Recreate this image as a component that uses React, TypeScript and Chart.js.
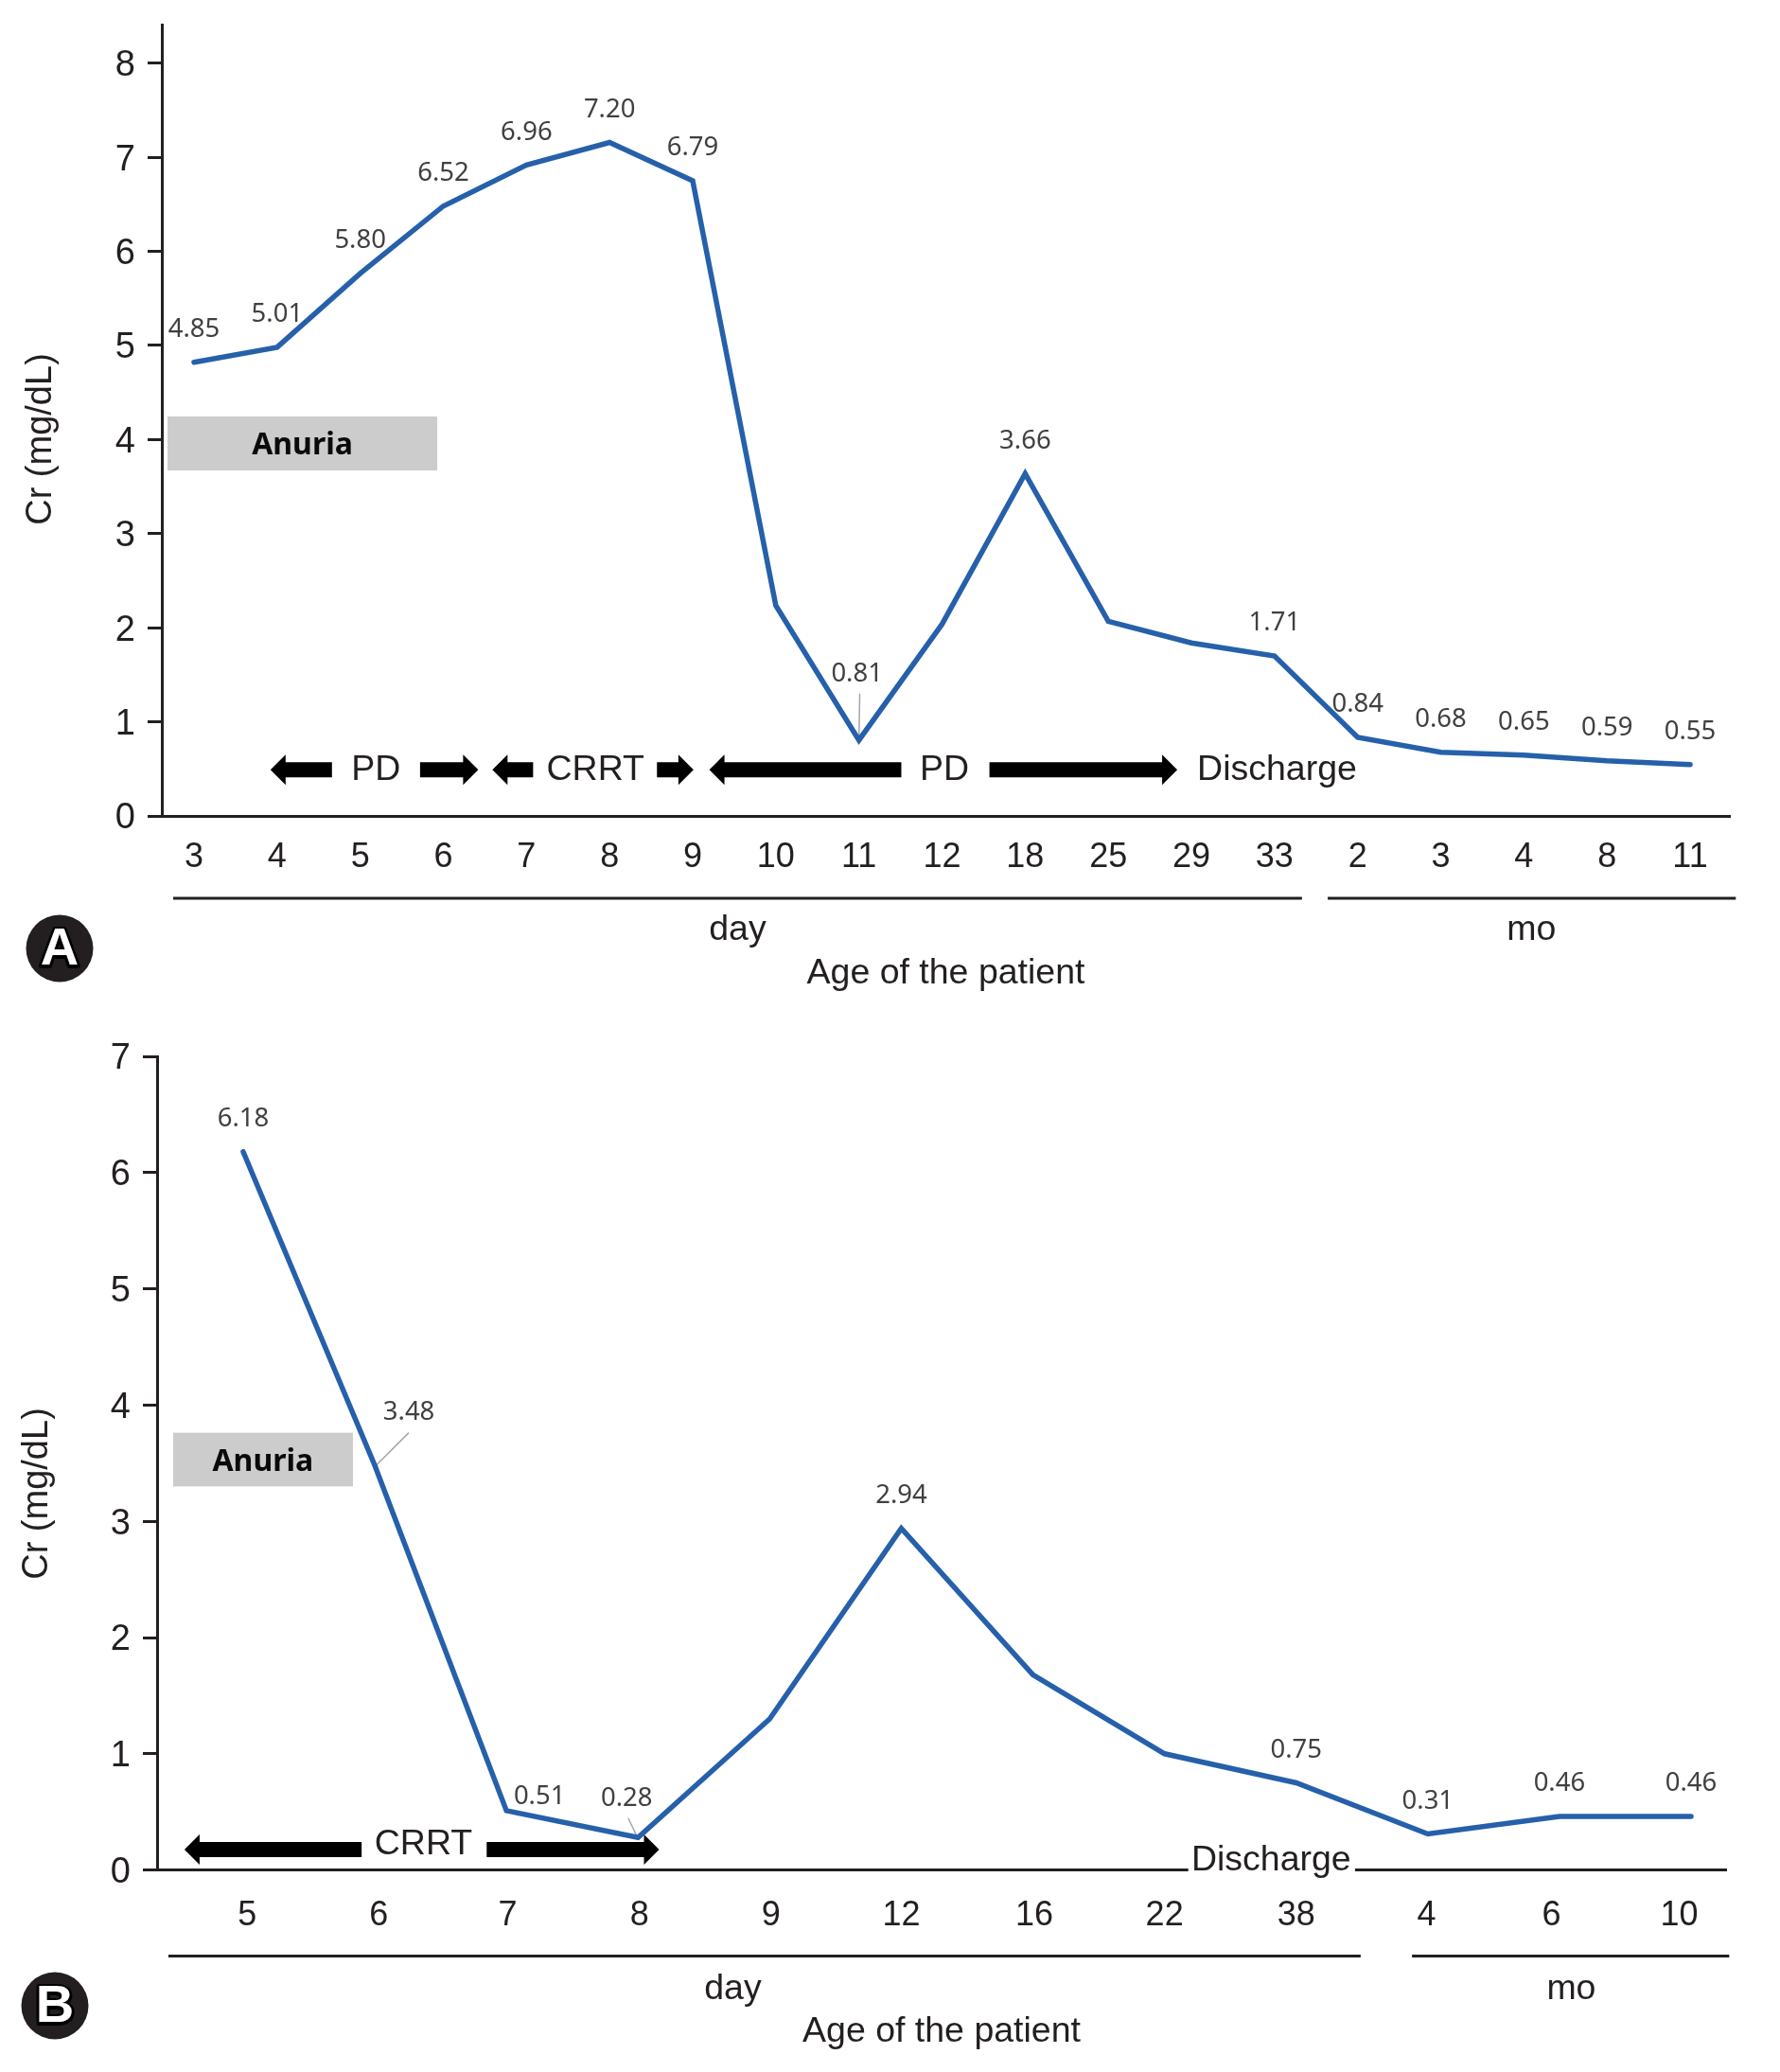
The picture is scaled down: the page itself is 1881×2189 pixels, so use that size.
import React, { useEffect, useRef } from "react";
import { Chart, registerables } from "chart.js";

Chart.register(...registerables);

// ---------- Panel A data ----------
const categoriesA = ["3","4","5","6","7","8","9","10","11","12","18","25","29","33","2","3","4","8","11"];
const valuesA = [4.85,5.01,5.80,6.52,6.96,7.20,6.79,2.25,0.81,2.05,3.66,2.08,1.85,1.71,0.84,0.68,0.65,0.59,0.55];
const labelsA = ["4.85","5.01","5.80","6.52","6.96","7.20","6.79",null,"0.81",null,"3.66",null,null,"1.71","0.84","0.68","0.65","0.59","0.55"];
const yTicksMaxA = 8.41;
const yDataMaxA = 8.46;

// ---------- Panel B data ----------
const categoriesB = ["5","6","7","8","9","12","16","22","38","4","6","10"];
const valuesB = [6.18,3.48,0.51,0.28,1.30,2.94,1.68,1.00,0.75,0.31,0.46,0.46];
const labelsB = ["6.18","3.48","0.51","0.28",null,"2.94",null,null,"0.75","0.31","0.46","0.46"];
const tickPositionsB = [0.03,1.03,2.01,3.01,4.01,5,6.01,7,8,8.99,9.94,10.91];

const FONT = '"Liberation Sans", Arial, sans-serif';
const LABEL_FONT = '"Noto Sans", "Open Sans", sans-serif';
const INK = "#231f20";
const BLUE = "#2660aa";

type Panel = {
  top: number; height: number;
  categories: string[]; values: number[]; labels: (string | null)[];
  tickPositions: number[];
  xMin: number; xMax: number; yMax: number; yDataMax: number;
  padTop: number; padRight: number; xHeight: number; titlePad: number; tickPad: number;
  nudges: Record<number, [number, number]>;
  arrows: [number, number][]; arrowY: number;
  texts: [string, number, number][];
  box: [number, number, number, number]; boxText: [number, number];
  leaders: [number, number, number, number][];
  gap: [number, number] | null;
  brackets: [number, number][]; bracketDy: number;
  unitTexts: [string, number][]; unitDy: number;
  yTitle: [number, number];
  badge: [string, number, number];
};

const panels: Panel[] = [
  {
    top: 0, height: 1094,
    categories: categoriesA, values: valuesA, labels: labelsA,
    tickPositions: categoriesA.map((_, i) => i),
    xMin: -0.387, xMax: 18.478, yMax: yTicksMaxA, yDataMax: yDataMaxA,
    padTop: 26, padRight: 53, xHeight: 232, titlePad: 43, tickPad: 22,
    nudges: { 8: [-2, -70] },
    arrows: [[1.66,0.92],[2.72,3.42],[4.08,3.59],[5.57,6.01],[8.51,6.20],[9.57,11.83]], arrowY: 0.49,
    texts: [["PD",2.19,0.49],["CRRT",4.83,0.49],["PD",9.03,0.49],["Discharge",13.03,0.49]],
    box: [-0.319,2.927,4.245,3.672], boxText: [1.304,3.93],
    leaders: [[8,0.8,8.01,1.3]],
    gap: null,
    brackets: [[-0.25,13.33],[13.64,18.55]], bracketDy: 87,
    unitTexts: [["day",6.54],["mo",16.09]], unitDy: 121,
    yTitle: [44,464],
    badge: ["A",63,1002],
  },
  {
    top: 1094, height: 1095,
    categories: categoriesB, values: valuesB, labels: labelsB,
    tickPositions: tickPositionsB,
    xMin: -0.654, xMax: 11.266, yMax: 7, yDataMax: 7,
    padTop: 22, padRight: 57, xHeight: 213.4, titlePad: 20, tickPad: 27,
    nudges: { 1: [36,-56], 2: [35,-15], 3: [-12,-41] },
    arrows: [[0.90,-0.446],[1.85,3.16]], arrowY: 0.176,
    texts: [["CRRT",1.37,0.223],["Discharge",7.81,0.08]],
    box: [-0.532,0.834,3.762,3.30], boxText: [0.15,3.505],
    leaders: [[1,3.47,1.258,3.762],[3,0.27,2.926,0.445]],
    gap: [7.18,8.447],
    brackets: [[-0.568,8.49],[8.88,11.29]], bracketDy: 91,
    unitTexts: [["day",3.72],["mo",10.09]], unitDy: 126,
    yTitle: [40,484],
    badge: ["B",58,1025],
  },
];

function PanelChart({ p }: { p: Panel }) {
  const ref = useRef<HTMLCanvasElement | null>(null);
  useEffect(() => {
    const overlay = {
      id: "overlay",
      beforeDraw(chart: any) {
        // the reference's y tick digits sit slightly below their tick marks
        const items = chart.scales.y.getLabelItems();
        items.forEach((it: any) => {
          if (it.options.__shifted) return;
          it.options.__shifted = true;
          it.options.translation = [it.options.translation[0], it.options.translation[1] + 3];
        });
      },
      beforeDatasetsDraw(chart: any) {
        const { ctx } = chart;
        const X = chart.scales.x, Y = chart.scales.y;
        const px = (v: number) => X.getPixelForValue(v);
        const py = (v: number) => Y.getPixelForValue(v);
        ctx.save();
        // Anuria box
        ctx.fillStyle = "#cdcccc";
        const [bx0, bx1, by0, by1] = p.box;
        ctx.fillRect(px(bx0), py(by0), px(bx1) - px(bx0), py(by1) - py(by0));
        ctx.fillStyle = "#0a0a0a";
        ctx.font = `bold 32px ${LABEL_FONT}`;
        ctx.textAlign = "center";
        ctx.textBaseline = "middle";
        ctx.fillText("Anuria", px(p.boxText[0]), py(p.boxText[1]));
        // axis gap
        if (p.gap) {
          ctx.fillStyle = "#fff";
          ctx.fillRect(px(p.gap[0]), chart.chartArea.bottom - 4, px(p.gap[1]) - px(p.gap[0]), 8);
        }
        // arrows
        ctx.fillStyle = "#000";
        const ay = py(p.arrowY);
        for (const [from, to] of p.arrows) {
          const x0 = px(from), x1 = px(to);
          const dir = x1 > x0 ? 1 : -1;
          const neck = x1 - dir * 16;
          ctx.beginPath();
          ctx.moveTo(x0, ay - 8);
          ctx.lineTo(neck, ay - 8);
          ctx.lineTo(neck, ay - 16);
          ctx.lineTo(x1, ay);
          ctx.lineTo(neck, ay + 16);
          ctx.lineTo(neck, ay + 8);
          ctx.lineTo(x0, ay + 8);
          ctx.closePath();
          ctx.fill();
        }
        // annotation words
        ctx.fillStyle = INK;
        ctx.font = `37.5px ${FONT}`;
        for (const [t, x, y] of p.texts) ctx.fillText(t, px(x), py(y));
        // leader lines
        ctx.strokeStyle = "#a6a6a6";
        ctx.lineWidth = 1.5;
        for (const [a, b, c, d] of p.leaders) {
          ctx.beginPath();
          ctx.moveTo(px(a), py(b));
          ctx.lineTo(px(c), py(d));
          ctx.stroke();
        }
        ctx.restore();
      },
      afterDatasetsDraw(chart: any) {
        const { ctx } = chart;
        const meta = chart.getDatasetMeta(0);
        ctx.save();
        ctx.fillStyle = "#404040";
        ctx.font = `27.5px ${LABEL_FONT}`;
        ctx.textAlign = "center";
        ctx.textBaseline = "middle";
        p.labels.forEach((t, i) => {
          if (!t) return;
          const pt = meta.data[i];
          const [dx, dy] = p.nudges[i] ?? [0, -34.5];
          ctx.fillText(t, pt.x + dx, pt.y + dy);
        });
        ctx.restore();
      },
      afterDraw(chart: any) {
        const { ctx } = chart;
        const X = chart.scales.x;
        const bottom = chart.chartArea.bottom;
        ctx.save();
        // brackets
        ctx.strokeStyle = INK;
        ctx.lineWidth = 3;
        for (const [a, b] of p.brackets) {
          ctx.beginPath();
          ctx.moveTo(X.getPixelForValue(a), bottom + p.bracketDy);
          ctx.lineTo(X.getPixelForValue(b), bottom + p.bracketDy);
          ctx.stroke();
        }
        ctx.fillStyle = INK;
        ctx.font = `37.5px ${FONT}`;
        ctx.textAlign = "center";
        ctx.textBaseline = "middle";
        for (const [t, x] of p.unitTexts) ctx.fillText(t, X.getPixelForValue(x), bottom + p.unitDy);
        // y title
        ctx.save();
        ctx.translate(p.yTitle[0], p.yTitle[1]);
        ctx.rotate(-Math.PI / 2);
        ctx.font = `38px ${FONT}`;
        ctx.fillText("Cr (mg/dL)", 0, 0);
        ctx.restore();
        // badge
        const [letter, bx, by] = p.badge;
        ctx.fillStyle = INK;
        ctx.beginPath();
        ctx.arc(bx, by, 35.5, 0, Math.PI * 2);
        ctx.fill();
        ctx.font = `bold 56px ${FONT}`;
        ctx.lineJoin = "round";
        ctx.lineWidth = 6;
        ctx.strokeStyle = "#000";
        ctx.strokeText(letter, bx, by + 3);
        ctx.fillStyle = "#fff";
        ctx.fillText(letter, bx, by + 2);
        ctx.restore();
      },
    };

    const chart = new Chart(ref.current as HTMLCanvasElement, {
      type: "line",
      data: {
        datasets: [
          {
            label: "Cr (mg/dL)",
            data: p.values.map((y, x) => ({ x, y })),
            yAxisID: "yData",
            borderColor: BLUE,
            borderWidth: 5.5,
            borderCapStyle: "round",
            borderJoinStyle: "miter",
            pointRadius: 0,
            tension: 0,
            fill: false,
            clip: false,
          },
        ],
      },
      options: {
        responsive: false,
        animation: false,
        devicePixelRatio: 1,
        layout: { padding: { left: 0, top: p.padTop, right: p.padRight, bottom: 0 } },
        plugins: { legend: { display: false }, title: { display: false }, tooltip: { enabled: false } },
        scales: {
          x: {
            type: "linear",
            bounds: "data",
            min: p.xMin,
            max: p.xMax,
            grid: { display: false, drawTicks: false },
            border: { display: true, color: INK, width: 3 },
            afterBuildTicks(scale: any) {
              scale.ticks = p.tickPositions.map((value) => ({ value }));
            },
            afterFit(scale: any) {
              scale.height = p.xHeight;
              scale.paddingLeft = 0;
              scale.paddingRight = 0;
            },
            ticks: {
              autoSkip: false,
              maxRotation: 0,
              minRotation: 0,
              padding: p.tickPad,
              color: INK,
              font: { family: FONT, size: 36 },
              callback: (_v: any, i: number) => p.categories[i],
            },
            title: {
              display: true,
              text: "Age of the patient",
              color: INK,
              font: { family: FONT, size: 37.5 },
              padding: { top: p.titlePad, bottom: p.titlePad },
            },
          },
          y: {
            type: "linear",
            position: "left",
            min: 0,
            max: p.yMax,
            grid: { drawOnChartArea: false, drawTicks: true, tickLength: 15, tickWidth: 3, tickColor: INK },
            border: { display: true, color: INK, width: 3 },
            afterFit(scale: any) {
              scale.width = p.top === 0 ? 171 : 166;
              scale.paddingTop = 0;
              scale.paddingBottom = 0;
            },
            ticks: {
              stepSize: 1,
              includeBounds: false,
              padding: 13,
              color: INK,
              font: { family: FONT, size: 38 },
            },
          },
          yData: {
            type: "linear",
            display: false,
            position: "left",
            min: 0,
            max: p.yDataMax,
          },
        },
      } as any,
      plugins: [overlay],
    } as any);
    return () => chart.destroy();
  }, [p]);
  return (
    <canvas
      ref={ref}
      width={1881}
      height={p.height}
      style={{ position: "absolute", left: 0, top: p.top, width: 1881, height: p.height, display: "block" }}
    />
  );
}

export default function App() {
  return (
    <div style={{ position: "absolute", left: 0, top: 0, width: 1881, height: 2189, background: "#fff", overflow: "hidden" }}>
      {panels.map((p) => (
        <PanelChart key={p.top} p={p} />
      ))}
    </div>
  );
}
